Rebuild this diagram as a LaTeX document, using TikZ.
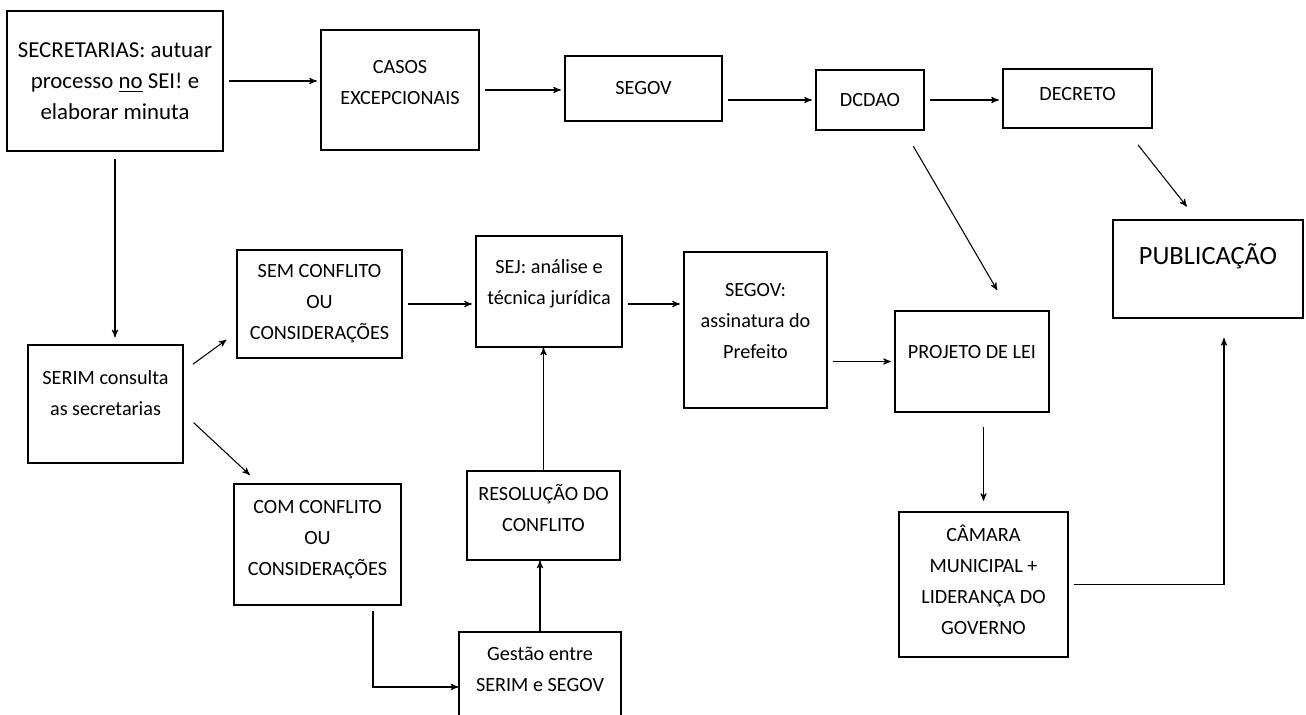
\documentclass[tikz,border=0pt]{standalone}
\usepackage{fontspec}
\setmainfont{Carlito}
\usetikzlibrary{arrows}

\newcommand{\pad}[1]{\rule[-#1]{0pt}{#1}}

\begin{document}
\begin{tikzpicture}[->,>=stealth',shorten >=2pt,shorten <=3pt,semithick,
                    x=0.02cm,y=-0.02cm,
                    box/.style={draw,thick,inner sep=0pt,align=center,
                                font=\fontsize{11.5}{17.6}\selectfont},
                    wh/.style 2 args={minimum width=#1*0.02cm,minimum height=#2*0.02cm}]
  \useasboundingbox (0,0) rectangle (1306,715);

  % top row
  \node[box,wh={216}{140},font=\fontsize{13}{17.6}\selectfont] (sec) at (115,81)
       {SECRETARIAS: autuar\\processo \underline{no} SEI! e\\elaborar minuta};
  \node[box,wh={158}{120}] (casos) at (400,90) {CASOS\\EXCEPCIONAIS\pad{9pt}};
  \node[box,wh={157}{65}]  (segov) at (643.5,88.5) {SEGOV};
  \node[box,wh={108}{60}]  (dcdao) at (870,100) {DCDAO};
  \node[box,wh={149}{59}]  (decreto) at (1077.5,98.5) {DECRETO\pad{5pt}};
  \node[box,wh={190}{98},font=\fontsize{15}{18}\selectfont] (pub) at (1208,269)
       {PUBLICAÇÃO\pad{17pt}};

  % middle
  \node[box,wh={155}{118}] (serim) at (105.5,404) {SERIM consulta\\as secretarias\pad{12.5pt}};
  \node[box,wh={165}{108}] (sem) at (319.5,304) {SEM CONFLITO\\OU\\CONSIDERAÇÕES};
  \node[box,wh={146}{111}] (sej) at (549,291.5) {SEJ: análise e\\técnica jurídica\pad{10.5pt}};
  \node[box,wh={143}{156}] (segov2) at (755.5,330) {SEGOV:\\assinatura do\\Prefeito\pad{10.5pt}};
  \node[box,wh={154}{101}] (projeto) at (972,361.5) {PROJETO DE LEI\pad{11pt}};

  % bottom
  \node[box,wh={167}{121}] (com) at (317.5,544.5) {COM CONFLITO\\OU\\CONSIDERAÇÕES\pad{7.5pt}};
  \node[box,wh={153}{89}]  (resol) at (543.5,515.5) {RESOLUÇÃO DO\\CONFLITO\pad{8.5pt}};
  \node[box,wh={162}{90}]  (gestao) at (540,677) {Gestão entre\\SERIM e SEGOV\pad{9pt}};
  \node[box,wh={169}{145}] (camara) at (983.5,584.5)
       {CÂMARA\\MUNICIPAL +\\LIDERANÇA DO\\GOVERNO\pad{5pt}};

  \path (sec.east) edge (sec.east -| casos.west)
        (casos.east) edge (casos.east -| segov.west)
        (segov.east |- dcdao) edge (dcdao)
        (dcdao) edge (dcdao -| decreto.west)
        ([xshift=-0.28cm,yshift=-0.22cm]dcdao.south east)
              edge ([xshift=0.54cm,yshift=0.34cm]projeto.north)
        ([xshift=-0.36cm,yshift=-0.24cm]decreto.south east)
              edge ([xshift=-0.38cm,yshift=0.2cm]pub.north);

  \draw[shorten <=4pt,shorten >=4pt] (sec.south) -- (sec.south |- serim.north);
  \path ([xshift=0.1cm,yshift=-0.46cm]serim.north east)
              edge ([xshift=-0.14cm,yshift=0.42cm]sem.south west)
        ([xshift=0.12cm,yshift=-0.3cm]serim.east)
              edge ([xshift=0.38cm,yshift=0.12cm]com.north west)
        (sem.east) edge (sem.east -| sej.west)
        (sem.east -| sej.east) edge (sem.east -| segov2.west)
        (segov2.east |- projeto) edge (projeto.west);

  \draw[shorten <=8pt,shorten >=6pt] (camara |- projeto.south) -- (camara.north);
  \draw[shorten >=11pt] (camara.east) -| ([xshift=0.32cm]pub.south);

  \draw[shorten >=0pt] ([xshift=1.11cm]com.south) |- ([yshift=-0.2cm]gestao.west);
  \draw[shorten <=0pt,shorten >=0pt] (gestao.north) -- (gestao.north |- resol.south);
  \draw[shorten <=0pt,shorten >=0pt] (resol.north) -- (resol.north |- sej.south);
\end{tikzpicture}
\end{document}
